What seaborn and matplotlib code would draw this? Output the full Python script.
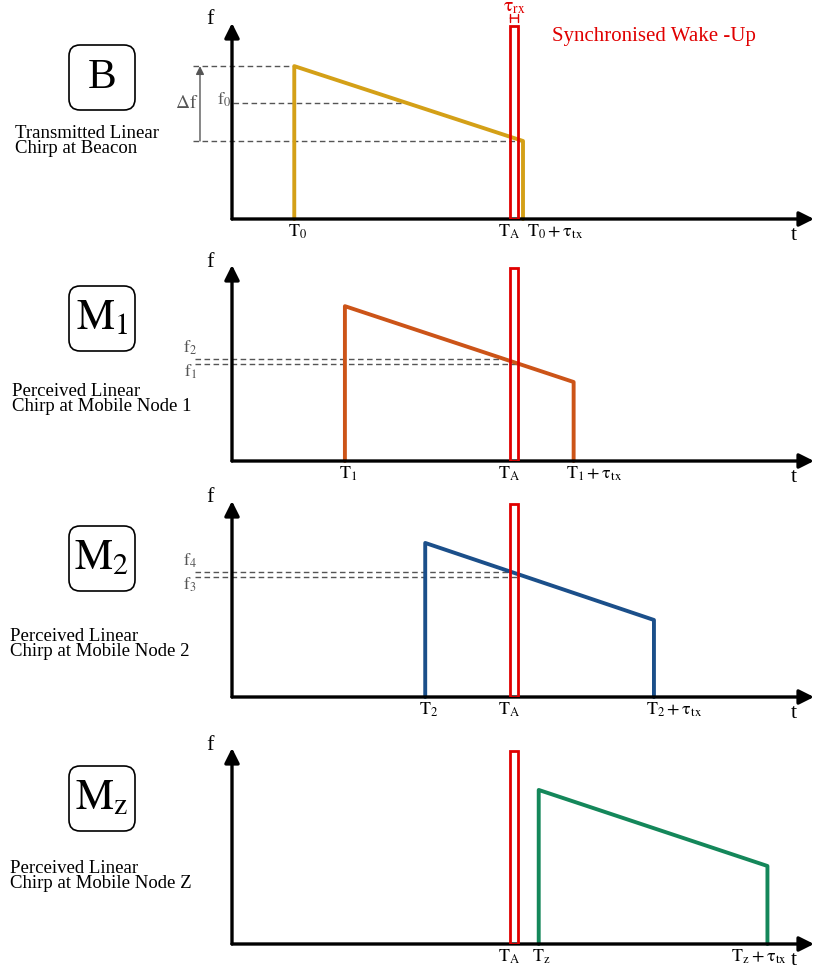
import numpy as np
import pandas as pd
import matplotlib
matplotlib.use("Agg")
import matplotlib.pyplot as plt
import seaborn as sns
from matplotlib.patches import FancyBboxPatch

# datos del diagrama (t y f en unidades arbitrarias, ejes de 0 a 10)
box_labels = ["B", r"$\mathrm{M}_1$", r"$\mathrm{M}_2$", r"$\mathrm{M}_\mathrm{z}$"]
captions = [
    "Transmitted Linear\nChirp at Beacon",
    "Perceived Linear\nChirp at Mobile Node 1",
    "Perceived Linear\nChirp at Mobile Node 2",
    "Perceived Linear\nChirp at Mobile Node Z",
]
chirp_start = [1.07, 1.94, 3.32, 5.27]
tau_tx = 3.93
f_high = [7.80, 7.90, 7.86, 7.86]
f_low = [3.98, 4.03, 3.93, 3.98]
chirp_colors = ["#D4A017", "#CC5418", "#1B4F8A", "#14875A"]
start_labels = [r"$\mathrm{T_0}$", r"$\mathrm{T_1}$", r"$\mathrm{T_2}$", r"$\mathrm{T_z}$"]
end_labels = [r"$\mathrm{T_0 + \tau_{tx}}$", r"$\mathrm{T_1 + \tau_{tx}}$",
              r"$\mathrm{T_2 + \tau_{tx}}$", r"$\mathrm{T_z + \tau_{tx}}$"]

# ventana de recepcion sincronizada
T_A = 4.78
tau_rx = 0.14
rx_top = 9.85

# frecuencias marcadas
f0 = 5.92
f_upper = [None, 5.20, 6.38, None]
f_lower = [None, 4.95, 6.12, None]
f_upper_labels = [None, r"$\mathrm{f_2}$", r"$\mathrm{f_4}$", None]
f_lower_labels = [None, r"$\mathrm{f_1}$", r"$\mathrm{f_3}$", None]

# posicion (px) de cada eje x en la figura
axis_y_px = [219, 461, 697, 944]
box_top_px = [44, 285, 525, 765]
caption_px = [(15, 133), (12, 391), (10, 636), (10, 868)]
end_label_dx = [4, -8, -8, -36]

W, H = 814, 972
red = "#E00000"
gray = "#555555"

sns.set_theme(style="white")
plt.rcParams["font.family"] = ["Liberation Serif", "DejaVu Serif"]
plt.rcParams["mathtext.fontset"] = "stix"
plt.rcParams["text.color"] = "black"

fig = plt.figure(figsize=(W / 100, H / 100), dpi=100)

for i in range(4):
    ax = fig.add_axes([232 / W, (H - axis_y_px[i]) / H, 582 / W, 196 / H])
    ax.set_xlim(0, 10)
    ax.set_ylim(0, 10)
    ax.axis("off")

    # ejes con flechas
    for tip in [(10, 0), (0, 10)]:
        ax.annotate("", xy=tip, xytext=(0, 0), annotation_clip=False,
                    arrowprops=dict(arrowstyle="-|>", lw=2.4, color="black",
                                    mutation_scale=22, shrinkA=0, shrinkB=0))
    ax.annotate("t", xy=(9.66, 0), xytext=(0, -16), textcoords="offset pixels",
                fontsize=16, ha="center", va="center", annotation_clip=False)
    ax.annotate("f", xy=(-0.38, 10), xytext=(0, 3), textcoords="offset pixels",
                fontsize=16, ha="center", va="center", annotation_clip=False)

    # chirp
    t0 = chirp_start[i]
    df = pd.DataFrame({
        "t": [t0, t0, t0 + tau_tx, t0 + tau_tx],
        "f": [0, f_high[i], f_low[i], 0],
    })
    sns.lineplot(data=df, x="t", y="f", sort=False, estimator=None,
                 color=chirp_colors[i], lw=2.8, ax=ax, clip_on=False)

    # ventana tau_rx
    ax.bar(T_A, rx_top, width=tau_rx, align="edge", fill=False,
           edgecolor=red, lw=2.0, zorder=4)

    # etiquetas de tiempo
    lab_kw = dict(textcoords="offset pixels", fontsize=13, va="top",
                  annotation_clip=False)
    ax.annotate(start_labels[i], xy=(t0, 0), xytext=(3, -4), ha="center", **lab_kw)
    ax.annotate(r"$\mathrm{T_A}$", xy=(T_A, 0), xytext=(-1, -4), ha="center", **lab_kw)
    ax.annotate(end_labels[i], xy=(t0 + tau_tx, 0), xytext=(end_label_dx[i], -4),
                ha="left", **lab_kw)

    # lineas de frecuencia
    dash = dict(color=gray, lw=1.0, ls=(0, (4, 2.5)), clip_on=False, zorder=1)
    if i == 0:
        ax.hlines(f_high[0], -0.67, t0, **dash)
        ax.hlines(f_low[0], -0.67, t0 + tau_tx, **dash)
        ax.hlines(f0, 0.02, 2.92, **dash)
        ax.annotate("", xy=(-0.55, f_high[0]), xytext=(-0.55, f_low[0]),
                    annotation_clip=False,
                    arrowprops=dict(arrowstyle="-|>", lw=1.0, color=gray,
                                    mutation_scale=12, shrinkA=0, shrinkB=0))
        ax.text(-0.57, (f_high[0] + f_low[0]) / 2, r"$\mathrm{\Delta f}$",
                fontsize=14, color=gray, ha="right", va="center")
        ax.annotate(r"$\mathrm{f_0}$", xy=(0.0, f0), xytext=(-1, 3),
                    textcoords="offset pixels", fontsize=13, color=gray,
                    ha="right", va="center", annotation_clip=False)
        # tau_rx
        ax.annotate("", xy=(T_A, 10.25), xytext=(T_A + tau_rx, 10.25),
                    annotation_clip=False,
                    arrowprops=dict(arrowstyle="|-|", lw=1.0, color=red,
                                    mutation_scale=3, shrinkA=0, shrinkB=0))
        ax.text(T_A + tau_rx / 2, 10.8, r"$\mathrm{\tau_{rx}}$", fontsize=14,
                color=red, ha="center", va="center")
        ax.text(5.5, 9.3, "Synchronised Wake -Up", fontsize=15, color=red,
                ha="left", va="center")
    elif f_upper[i] is not None:
        ax.hlines(f_upper[i], -0.63, T_A, **dash)
        ax.hlines(f_lower[i], -0.63, T_A + tau_rx, **dash)
        ax.annotate(f_upper_labels[i], xy=(-0.72, f_upper[i]), xytext=(0, 11),
                    textcoords="offset pixels", fontsize=12.5, color=gray,
                    ha="center", va="center", annotation_clip=False)
        ax.annotate(f_lower_labels[i], xy=(-0.72, f_lower[i]), xytext=(0, -8),
                    textcoords="offset pixels", fontsize=12.5, color=gray,
                    ha="center", va="center", annotation_clip=False)

    # caja con el nodo
    bx = fig.add_axes([68 / W, (H - box_top_px[i] - 67) / H, 68 / W, 67 / H])
    bx.set_xlim(0, 68)
    bx.set_ylim(0, 67)
    bx.axis("off")
    bx.add_patch(FancyBboxPatch((1, 1), 66, 65, boxstyle="round,pad=0,rounding_size=11",
                                fc="white", ec="black", lw=1.2, clip_on=False))
    bx.text(34, 33.5, box_labels[i], fontsize=31, ha="center", va="center")

    cx, cy = caption_px[i]
    fig.text(cx / W, 1 - (cy - 8) / H, captions[i], fontsize=13.5, ha="left",
             va="top", linespacing=0.85)

fig.savefig("out.png", dpi=100)
